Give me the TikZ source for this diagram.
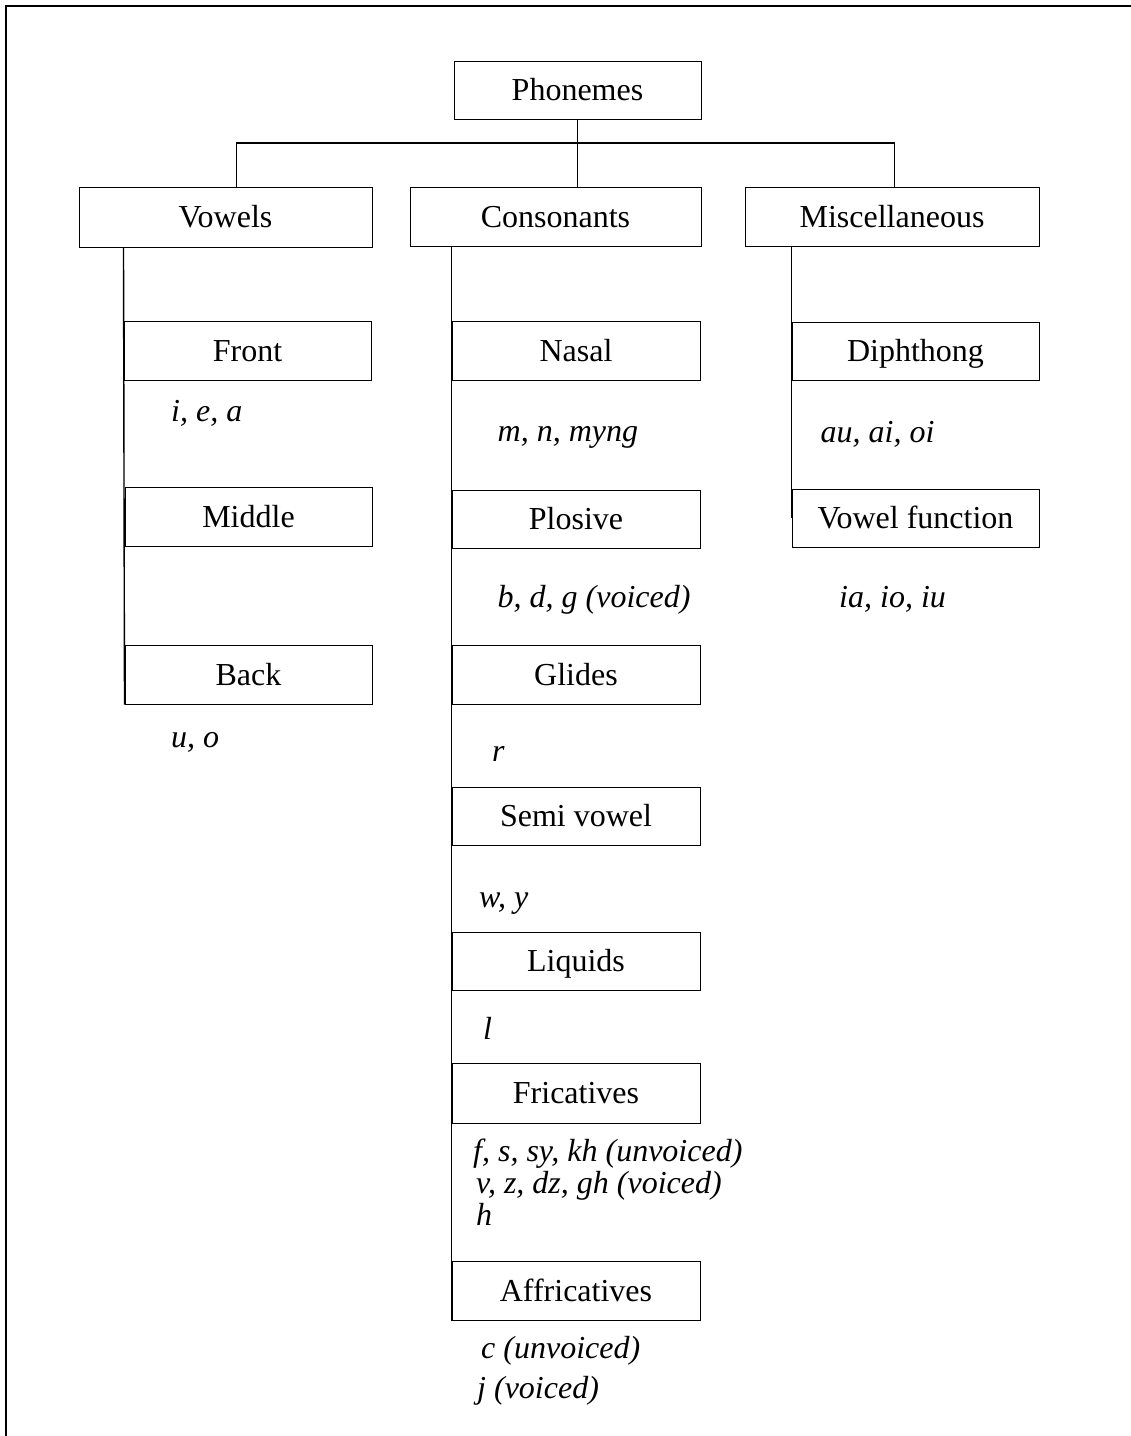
\documentclass[tikz,border=0pt]{standalone}
\usepackage{fontspec}
\setmainfont{Liberation Serif}
\begin{document}
\begin{tikzpicture}[x=1pt,y=-1pt,
  box/.style={draw, line width=1pt, inner sep=0pt, text height=21pt, text depth=0pt,
              font=\fontsize{32}{38}\selectfont},
  lbl/.style={anchor=base west, inner sep=0pt, font=\fontsize{32}{38}\selectfont\itshape},
  link/.style={line width=1.4pt},
  frame/.style={line width=2pt}]
\useasboundingbox (0,0) rectangle (1131,1436);

% page frame (top and left edges)
\draw[frame] (6,1436) -- (6,6) -- (1131,6);

% root and first level
\node[box, minimum width=247pt, minimum height=58pt] (phon) at (577.5,90) {Phonemes};
\node[box, minimum width=293pt, minimum height=60pt] (vow)  at (225.5,217) {Vowels};
\node[box, minimum width=291pt, minimum height=59pt] (cons) at (555.5,216.5) {Consonants};
\node[box, minimum width=294pt, minimum height=59pt] (misc) at (892,216.5) {Miscellaneous};

% vowels
\node[box, minimum width=247pt, minimum height=59pt] (front)  at (247.5,350.5) {Front};
\node[box, minimum width=247pt, minimum height=59pt] (middle) at (248.5,516.5) {Middle};
\node[box, minimum width=247pt, minimum height=59pt] (back)   at (248.5,674.5) {Back};

% consonants
\node[box, minimum width=248pt, minimum height=59pt] (nasal)   at (576,350.5) {Nasal};
\node[box, minimum width=248pt, minimum height=58pt] (plosive) at (576,519) {Plosive};
\node[box, minimum width=248pt, minimum height=59pt] (glides)  at (576,674.5) {Glides};
\node[box, minimum width=248pt, minimum height=58pt] (semi)    at (576,816) {Semi vowel};
\node[box, minimum width=248pt, minimum height=58pt] (liquids) at (576,961) {Liquids};
\node[box, minimum width=248pt, minimum height=60pt] (fric)    at (576,1093) {Fricatives};
\node[box, minimum width=248pt, minimum height=59pt] (affr)    at (576,1290.5) {Affricatives};

% miscellaneous
\node[box, minimum width=247pt, minimum height=58pt] (diph)  at (915.5,351) {Diphthong};
\node[box, minimum width=247pt, minimum height=58pt] (vfunc) at (915.5,518) {Vowel function};

% example phonemes
\node[lbl] (exfront) at (171,421.5) {i, e, a};
\node[lbl] (exback)  at (171,747) {u, o};
\node[lbl] (exnasal) at (497.5,441) {m, n, myng};
\node[lbl] (explos)  at (497.5,607) {b, d, g (voiced)};
\node[lbl] (exglide) at (492,761) {r};
\node[lbl] (exsemi)  at (479,907) {w, y};
\node[lbl] (exliq)   at (483,1039.5) {l};
\node[lbl] (exfricA) at (473,1161) {f, s, sy, kh (unvoiced)};
\node[lbl] (exfricB) at (476,1193) {v, z, dz, gh (voiced)};
\node[lbl] (exfricC) at (476,1225) {h};
\node[lbl] (exaffrA) at (481,1358) {c (unvoiced)};
\node[lbl] (exaffrB) at (477,1398) {j (voiced)};
\node[lbl] (exdiph)  at (820.5,442) {au, ai, oi};
\node[lbl] (exvfunc) at (839,607) {ia, io, iu};

% tree connectors
\coordinate (barL) at (236.7,143);
\coordinate (barR) at (894.7,143);
\draw[link] (barL |- vow.north) -- (barL) -- (barR) -- (barR |- misc.north);
\draw[link] (phon.south) -- (phon.south |- cons.north);

% spines of the three columns
\draw[link] (front.west |- vow.south) -- (back.south west);
\draw[link] (nasal.west |- cons.south) -- (affr.south west);
\draw[link] (diph.west |- misc.south) -- (vfunc.west);
\end{tikzpicture}
\end{document}
